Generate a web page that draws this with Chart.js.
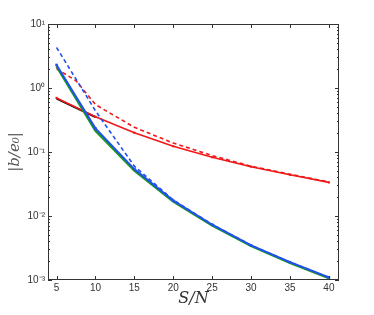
<!DOCTYPE html>
<html>
<head>
<meta charset="utf-8">
<script src="https://cdn.jsdelivr.net/npm/chart.js@4/dist/chart.umd.min.js"></script>
<style>
  html, body { margin: 0; padding: 0; background: #fff; }
  #wrap { width: 374px; height: 315px; }
</style>
</head>
<body>
<div id="wrap"><canvas id="plot"></canvas></div>
<script>
const snr = [5, 10, 15, 20, 25, 30, 35, 40];
const snrDash = [5, 7.5, 10, 15, 20, 25, 30, 35, 40];

const blackSolid = [0.68, 0.35];
const redSolid = [0.70, 0.355, 0.20, 0.123, 0.083, 0.059, 0.044, 0.0335];
const redDashed = [2.0, 1.3, 0.55, 0.243, 0.138, 0.088, 0.060, 0.045, 0.034];
const blueSolid = [2.29, 0.234, 0.054, 0.0174, 0.0073, 0.00347, 0.0019, 0.0011];
const blueDashed = [4.3, 0.44, 0.06, 0.0178, 0.0074, 0.0035, 0.0019, 0.0011];
const greenSolid = [2.17, 0.215, 0.051, 0.0168, 0.0071, 0.0034, 0.00185, 0.00107];

const xTicks = [5, 10, 15, 20, 25, 30, 35, 40];
const yTicks = [0.001, 0.01, 0.1, 1, 10];
const yTickLabels = ["10⁻³", "10⁻²", "10⁻¹", "10⁰", "10¹"];

function pts(xs, ys) {
  return ys.map((y, i) => ({ x: xs[i], y: y }));
}

// box + inner ticks like the original figure
const frame = {
  id: "frame",
  afterDraw(chart) {
    const c = chart.ctx;
    const a = chart.chartArea;
    const ys = chart.scales.y;
    const xs = chart.scales.x;
    c.save();
    c.strokeStyle = "#333";
    c.lineWidth = 1;
    c.strokeRect(a.left + 0.5, a.top + 0.5, a.right - a.left - 1, a.bottom - a.top - 1);
    c.beginPath();
    for (let d = -3; d < 1; d++) {
      for (let m = 1; m < 10; m++) {
        const v = m * Math.pow(10, d);
        const py = Math.round(ys.getPixelForValue(v)) + 0.5;
        const len = m === 1 ? 4 : 2;
        c.moveTo(a.left, py); c.lineTo(a.left + len, py);
        c.moveTo(a.right, py); c.lineTo(a.right - len, py);
      }
    }
    xTicks.forEach(v => {
      const px = Math.round(xs.getPixelForValue(v)) + 0.5;
      c.moveTo(px, a.bottom); c.lineTo(px, a.bottom - 4);
      c.moveTo(px, a.top); c.lineTo(px, a.top + 4);
    });
    c.stroke();
    c.restore();
  }
};

new Chart(document.getElementById("plot"), {
  type: "line",
  data: {
    datasets: [
      {
        data: pts(snr, blackSolid),
        borderColor: "#111",
        borderWidth: 2,
        pointRadius: 0,
        order: 6,
      },
      {
        data: pts(snrDash, redDashed),
        borderColor: "#f01818",
        borderWidth: 1.6,
        borderDash: [4, 3],
        pointRadius: 0,
        order: 5,
      },
      {
        data: pts(snr, redSolid),
        borderColor: "#f01818",
        borderWidth: 1.6,
        pointStyle: "rect",
        pointRadius: 1.5,
        pointBackgroundColor: "#f01818",
        pointBorderWidth: 0,
        order: 4,
      },
      {
        data: pts(snr, greenSolid),
        borderColor: "#1c9a1c",
        borderWidth: 2.4,
        pointRadius: 0,
        order: 3,
      },
      {
        data: pts(snr, blueDashed),
        borderColor: "#2050f0",
        borderWidth: 1.6,
        borderDash: [4, 3],
        pointRadius: 0,
        order: 2,
      },
      {
        data: pts(snr, blueSolid),
        borderColor: "#2050f0",
        borderWidth: 2,
        pointStyle: "rect",
        pointRadius: 1.8,
        pointBackgroundColor: "#2050f0",
        pointBorderWidth: 0,
        order: 1,
      },
    ],
  },
  options: {
    responsive: true,
    maintainAspectRatio: false,
    animation: false,
    layout: { padding: { top: 24, right: 35, left: 0, bottom: 0 } },
    plugins: {
      legend: { display: false },
      tooltip: { enabled: false },
    },
    scales: {
      x: {
        type: "linear",
        min: 3.9,
        max: 41.3,
        grid: { display: false, drawTicks: false },
        border: { display: false },
        afterBuildTicks: (s) => { s.ticks = xTicks.map(v => ({ value: v })); },
        afterFit: (s) => { s.height = 35; },
        ticks: {
          color: "#333",
          font: { family: "Liberation Sans", size: 10 },
          padding: 2,
          maxRotation: 0,
        },
        title: {
          display: true,
          text: "S/N",
          color: "#333",
          font: { family: "DejaVu Serif", style: "italic", size: 16 },
          padding: { top: 0, bottom: 7 },
        },
      },
      y: {
        type: "logarithmic",
        min: 0.001,
        max: 10,
        grid: { display: false, drawTicks: false },
        border: { display: false },
        afterBuildTicks: (s) => { s.ticks = yTicks.map(v => ({ value: v })); },
        afterFit: (s) => { s.width = 48; },
        ticks: {
          color: "#333",
          font: { family: "Liberation Sans", size: 10 },
          padding: 3,
          callback: (v) => {
            const i = yTicks.findIndex(t => Math.abs(t - v) / t < 1e-6);
            return i >= 0 ? yTickLabels[i] : "";
          },
        },
        title: {
          display: true,
          text: "|b/e₀|",
          color: "#555",
          font: { family: "DejaVu Serif", style: "italic", size: 15 },
          padding: { top: 6, bottom: 0 },
        },
      },
    },
  },
  plugins: [frame],
});
</script>
</body>
</html>
